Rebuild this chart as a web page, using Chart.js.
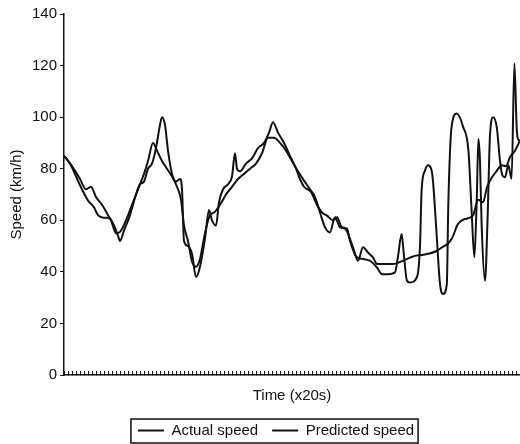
<!DOCTYPE html>
<html>
<head>
<meta charset="utf-8">
<script src="https://cdn.jsdelivr.net/npm/chart.js@4/dist/chart.umd.min.js"></script>
<style>
    html, body { margin: 0; padding: 0; background: #fff; }
    #chart { display: block; }
</style>
</head>
<body>
<canvas id="chart" width="520" height="444"></canvas>
<script>
// time index (x20s) and speed (km/h)
const actualTime = [0, 2, 4, 5.5, 6.75, 8, 9.5, 11, 12.5, 13.5,
    14, 15, 16.5, 18, 19, 20, 21, 22, 23, 24,
    24.5, 25.25, 26, 27, 28, 29, 29.5, 30, 31, 32,
    33, 34, 35.25, 36.25, 37, 38, 38.75, 39.75, 41, 42,
    42.75, 43.25, 44, 45.5, 47, 48.5, 50, 51.25, 52.25, 53.5,
    55, 56.5, 58, 59, 60, 61.75, 63.25, 64.5, 65.75, 67.25,
    68.25, 69.5, 70.75, 71.5, 73.25, 74.75, 76.5, 78.25, 79.5, 81,
    82.75, 83.5, 84.4, 85, 85.75, 86.5, 88.25, 89, 89.4, 90.25,
    91, 91.9, 92.3, 93.2, 94, 94.8, 95.7, 96.1, 96.9, 98.2,
    99.8, 101.1, 101.9, 102.6, 103.2, 103.6, 104, 104.4, 105.25, 105.9,
    106.5, 107.3, 108.2, 109, 109.6, 110.25, 111.1, 111.9, 112.6, 113.2,
    113.75, 114];
const actualSpeed = [85, 81, 76, 72, 73, 69, 66, 62, 58, 54,
    52, 56, 62, 70, 74, 75, 80, 82, 88, 97,
    100, 97, 87, 78, 75, 76, 72, 52, 50, 47,
    38, 42, 53, 64, 60, 58, 67, 72, 74, 77,
    86, 80, 79, 82, 84, 88, 90, 94, 98, 94,
    90, 85, 80, 76, 73, 71, 66, 63, 61.8, 60,
    61.2, 57.3, 56.8, 52, 45.6, 45, 44.3, 41.7, 39.1, 39.1,
    39.8, 46, 54.7, 46, 36.5, 35.9, 38, 50, 71.6, 79.3,
    81.3, 79.3, 74.2, 53.4, 35.2, 31.4, 35.2, 67.7, 96.2, 101.4,
    96.2, 87.1, 63.8, 45.6, 69, 91.6, 83, 58.6, 36.5, 61,
    93, 100, 96, 83, 77.4, 76.7, 81.3, 76.1, 120.8, 95,
    91, 91];

const predictedTime = [0, 1.5, 3, 4.5, 6, 7.5, 8.5, 10, 11.5, 13,
    14, 15.5, 17, 18.5, 20, 21, 22.25, 23.25, 24.5, 25.75,
    27, 28.25, 29.25, 30, 31, 32, 33, 34, 35.25, 36.5,
    37.5, 39, 40.5, 42, 43.5, 45, 46.5, 48, 49.5, 51,
    52.5, 54, 55.5, 57, 58.5, 60, 61.5, 62.75, 64, 65.25,
    66.5, 67.75, 69, 70.25, 72.25, 73.5, 74.75, 76, 77.25, 78.25,
    80.25, 82, 83.5, 85, 86.5, 88, 89.5, 91, 93, 94.5,
    96, 97, 98.5, 100.25, 102.25, 103.5, 104.75, 105.75, 107, 108.25,
    109.5, 110.5, 111.5, 112.75, 114];
const predictedSpeed = [85, 82, 77, 72, 67.7, 65, 62, 61, 60.6, 55,
    55.5, 60, 66, 72, 78, 83, 90, 87, 83, 80,
    77, 73, 68, 58, 52, 44, 42, 45, 55, 62,
    63, 66, 70, 73, 76, 78, 80, 82, 86, 92,
    92, 90, 87, 83, 79, 75.4, 72, 69, 63, 57.3,
    55.3, 61.2, 57.3, 56.8, 49.5, 44.3, 49.5, 47.5, 45.6, 43,
    43, 43, 43.5, 44.5, 45.5, 46.3, 46.5, 47, 48, 49.5,
    51, 53, 58.6, 60.5, 61.8, 68, 67, 72.8, 76.7, 79.3,
    81.3, 81, 84.5, 87, 91];

const seriesLabels = ['Actual speed', 'Predicted speed'];
const yMin = 0;
const yMax = 140;
const yStep = 20;
const timeMax = 114;

const FONT = "'Liberation Sans', Arial, sans-serif";
const INK = '#111';

function toPoints(times, speeds) {
    return times.map((t, i) => ({ x: t, y: speeds[i] }));
}

function buildDataset(label, times, speeds) {
    return {
        label,
        data: toPoints(times, speeds),
        borderColor: INK,
        backgroundColor: INK,
        borderWidth: 2,
        pointRadius: 0,
        cubicInterpolationMode: 'monotone',
        fill: false
    };
}

// draws the frame round the legend entries
const legendFrame = {
    id: 'legendFrame',
    afterDraw(chart) {
        const boxes = chart.legend && chart.legend.legendHitBoxes;
        if (!boxes || !boxes.length) return;
        const first = boxes[0];
        const last = boxes[boxes.length - 1];
        const left = first.left - 7;
        const right = last.left + last.width + 4;
        const top = first.top - 4;
        const bottom = first.top + first.height + 5;
        const ctx = chart.ctx;
        ctx.save();
        ctx.strokeStyle = INK;
        ctx.lineWidth = 1.5;
        ctx.strokeRect(left, top, right - left, bottom - top);
        ctx.restore();
    }
};

new Chart(document.getElementById('chart'), {
    type: 'line',
    data: {
        datasets: [
            buildDataset(seriesLabels[0], actualTime, actualSpeed),
            buildDataset(seriesLabels[1], predictedTime, predictedSpeed)
        ]
    },
    options: {
        responsive: false,
        animation: false,
        layout: { padding: { top: 14, right: -32, bottom: -4, left: 0 } },
        plugins: {
            legend: {
                position: 'bottom',
                labels: {
                    color: INK,
                    font: { family: FONT, size: 15 },
                    usePointStyle: true,
                    pointStyle: 'line',
                    pointStyleWidth: 26,
                    padding: 14
                }
            },
            tooltip: { enabled: false }
        },
        scales: {
            x: {
                type: 'linear',
                min: 0,
                max: timeMax,
                afterFit: scale => { scale.height = 34; },
                border: { display: true, color: INK, width: 1.5 },
                grid: { drawOnChartArea: false, color: INK, tickLength: -4, lineWidth: 1 },
                ticks: { display: false, stepSize: 1, autoSkip: false },
                title: {
                    display: true,
                    text: 'Time (x20s)',
                    color: INK,
                    font: { family: FONT, size: 15 },
                    padding: { top: 0, bottom: 4 }
                }
            },
            y: {
                min: yMin,
                max: yMax,
                afterFit: scale => { scale.width = 64; },
                border: { display: true, color: INK, width: 1.5 },
                grid: { drawOnChartArea: false, color: INK, tickLength: 4, lineWidth: 1 },
                ticks: {
                    stepSize: yStep,
                    color: INK,
                    padding: 3,
                    font: { family: FONT, size: 15 }
                },
                title: {
                    display: true,
                    text: 'Speed (km/h)',
                    color: INK,
                    font: { family: FONT, size: 15 },
                    padding: { top: 8, bottom: 0 }
                }
            }
        }
    },
    plugins: [legendFrame]
});
</script>
</body>
</html>
